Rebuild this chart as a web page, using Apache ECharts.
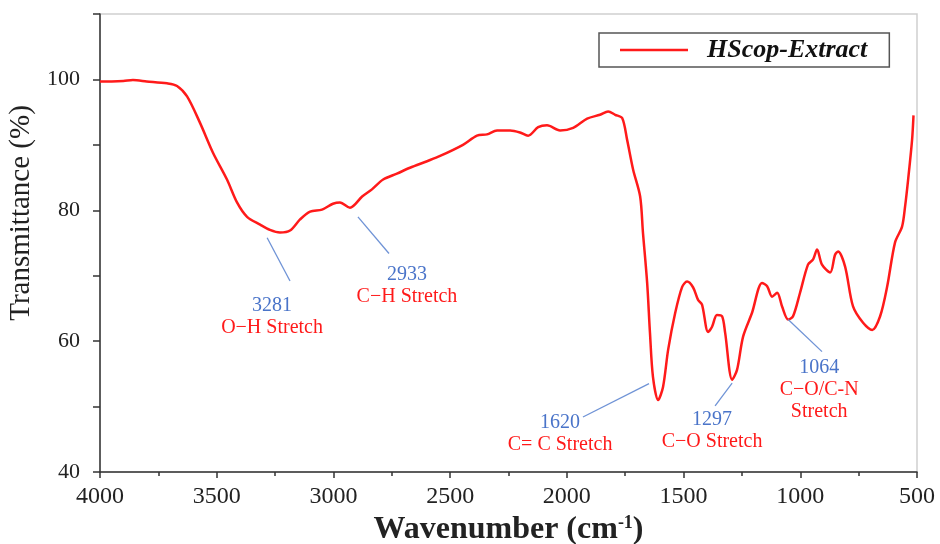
<!DOCTYPE html>
<html>
<head>
<meta charset="utf-8">
<script src="https://cdn.jsdelivr.net/npm/echarts@6/dist/echarts.min.js"></script>
<style>
  html, body { margin: 0; padding: 0; background: #fff; }
  #chart { width: 940px; height: 544px; }
</style>
</head>
<body>
<div id="chart"></div>
<script>
// ---------- data ----------
const seriesName = 'HScop-Extract';
const wavenumber = [4000, 3950, 3900, 3859, 3800, 3713, 3670, 3627, 3572, 3516, 3456, 3413, 3370, 3314, 3272, 3229, 3186, 3143, 3100, 3049, 3002, 2972, 2929, 2877, 2835, 2787, 2728, 2672, 2599, 2543, 2445, 2385, 2342, 2299, 2243, 2201, 2166, 2123, 2085, 2029, 1973, 1913, 1858, 1823, 1793, 1763, 1742, 1716, 1686, 1674, 1656, 1644, 1631, 1609, 1588, 1566, 1536, 1506, 1485, 1459, 1438, 1421, 1395, 1378, 1357, 1335, 1322, 1292, 1271, 1245, 1207, 1164, 1142, 1121, 1099, 1078, 1052, 1031, 1001, 967, 945, 928, 907, 872, 851, 838, 808, 774, 731, 692, 658, 628, 594, 564, 551, 538, 521, 515];
const transmittance = [99.7, 99.7, 99.75, 99.9, 99.7, 99.4, 99.0, 97.4, 93.4, 88.8, 84.7, 81.2, 79.0, 77.8, 77.0, 76.6, 76.9, 78.6, 79.8, 80.1, 81.0, 81.2, 80.4, 82.1, 83.2, 84.7, 85.6, 86.5, 87.5, 88.3, 90.0, 91.4, 91.6, 92.2, 92.2, 91.9, 91.4, 92.7, 93.0, 92.2, 92.6, 94.0, 94.6, 95.1, 94.6, 94.1, 90.8, 86.2, 82.1, 76.6, 68.9, 61.3, 54.5, 51.0, 53.0, 58.7, 64.3, 68.3, 69.1, 68.2, 66.3, 65.6, 61.4, 62.2, 64.0, 63.8, 61.3, 54.1, 55.6, 60.7, 64.3, 68.9, 68.4, 66.8, 67.4, 65.3, 63.3, 63.8, 67.4, 71.7, 72.5, 74.0, 71.7, 70.5, 73.2, 73.7, 71.4, 65.3, 62.8, 61.7, 63.8, 68.3, 75.1, 77.5, 80.6, 84.7, 90.8, 94.5];
const xTickLabels = [4000, 3500, 3000, 2500, 2000, 1500, 1000, 500];
const yTickLabels = [40, 60, 80, 100];
const peakNumbers = ['3281', '2933', '1620', '1297', '1064'];
const peakNames = [['O\u2212H Stretch'], ['C\u2212H Stretch'], ['C= C Stretch'], ['C\u2212O Stretch'], ['C\u2212O/C-N', 'Stretch']];

// ---------- layout (annotation placement, data units) ----------
const leaderLines = [
  [[3284, 75.8], [3186, 69.2]],
  [[2895, 79.0], [2762, 73.4]],
  [[1648, 53.5], [1931, 48.4]],
  [[1292, 53.6], [1365, 50.1]],
  [[1052, 63.3], [907, 58.4]]
];
const labelAnchors = [[3263, 65.4], [2685, 70.2], [2029, 47.5], [1378, 48.0], [919, 55.9]];

const FONT = '"Liberation Serif", "Times New Roman", serif';
const chart = echarts.init(document.getElementById('chart'));

const option = {
  animation: false,
  backgroundColor: '#ffffff',
  grid: {
    left: 100, right: 23, top: 14, bottom: 72,
    outerBoundsMode: 'none', containLabel: false,
    show: true, borderColor: '#cfcfcf', borderWidth: 1.5, backgroundColor: 'transparent'
  },
  legend: {
    show: true,
    left: 599, top: 33,
    padding: [4, 22, 4, 21],
    backgroundColor: '#fff',
    borderColor: '#555', borderWidth: 1.5,
    icon: 'rect', itemWidth: 68, itemHeight: 2.5,
    textStyle: { fontFamily: FONT, fontSize: 26, fontWeight: 'bold', fontStyle: 'italic', color: '#111', padding: [0, 0, 0, 14] },
    data: [seriesName]
  },
  xAxis: {
    type: 'value', inverse: true, min: 500, max: 4000, interval: 500,
    name: '{a|Wavenumber (cm}{s|-1}{a|)}',
    nameLocation: 'middle', nameGap: 41,
    nameTextStyle: {
      rich: {
        a: { fontFamily: FONT, fontSize: 32, fontWeight: 'bold', color: '#222' },
        s: { fontFamily: FONT, fontSize: 18, fontWeight: 'bold', color: '#222', verticalAlign: 'top', padding: [0, 0, 14, 0] }
      }
    },
    axisLine: { show: true, lineStyle: { color: '#333', width: 1.5 } },
    axisTick: { show: true, inside: false, length: 6, lineStyle: { color: '#333', width: 1.5 } },
    minorTick: { show: true, splitNumber: 2, length: 4, lineStyle: { color: '#333', width: 1.5 } },
    axisLabel: {
      fontFamily: FONT, fontSize: 24, color: '#222', margin: 13,
      formatter: v => xTickLabels.indexOf(v) >= 0 ? String(v) : ''
    },
    splitLine: { show: false }
  },
  yAxis: {
    type: 'value', min: 40, max: 110, interval: 10,
    name: 'Transmittance (%)',
    nameLocation: 'middle', nameGap: 64, nameRotate: 90,
    nameTextStyle: { fontFamily: FONT, fontSize: 29, color: '#222', padding: [0, 0, 0, 60] },
    axisLine: { show: true, lineStyle: { color: '#333', width: 1.5 } },
    axisTick: { show: true, inside: false, length: 7, lineStyle: { color: '#333', width: 1.5 } },
    axisLabel: {
      fontFamily: FONT, fontSize: 22, color: '#222', margin: 20,
      formatter: v => yTickLabels.indexOf(v) >= 0 ? String(v) : ''
    },
    splitLine: { show: false }
  },
  series: [{
    name: seriesName,
    type: 'line',
    data: wavenumber.map((w, i) => [w, transmittance[i]]),
    showSymbol: false,
    smooth: 0.3,
    lineStyle: { color: '#ff1a1a', width: 2.5 },
    itemStyle: { color: '#ff1a1a' },
    markLine: {
      silent: true, symbol: 'none', animation: false,
      label: { show: false },
      lineStyle: { color: '#6f93d6', width: 1.3, type: 'solid' },
      data: leaderLines.map(l => [{ coord: l[0] }, { coord: l[1] }])
    },
    z: 3
  }]
};
chart.setOption(option);

// annotation texts placed through the chart's own coordinate system
const graphics = [];
labelAnchors.forEach((a, i) => {
  const p = chart.convertToPixel({ gridIndex: 0 }, a);
  graphics.push({
    type: 'text', x: p[0], y: p[1],
    style: { text: peakNumbers[i], fill: '#4a74c9', font: '20px ' + FONT, textAlign: 'center', textVerticalAlign: 'middle' }
  });
  peakNames[i].forEach((t, j) => {
    graphics.push({
      type: 'text', x: p[0], y: p[1] + 22 * (j + 1),
      style: { text: t, fill: '#ff1a1a', font: '20px ' + FONT, textAlign: 'center', textVerticalAlign: 'middle' }
    });
  });
});
chart.setOption({ graphic: graphics });
</script>
</body>
</html>
